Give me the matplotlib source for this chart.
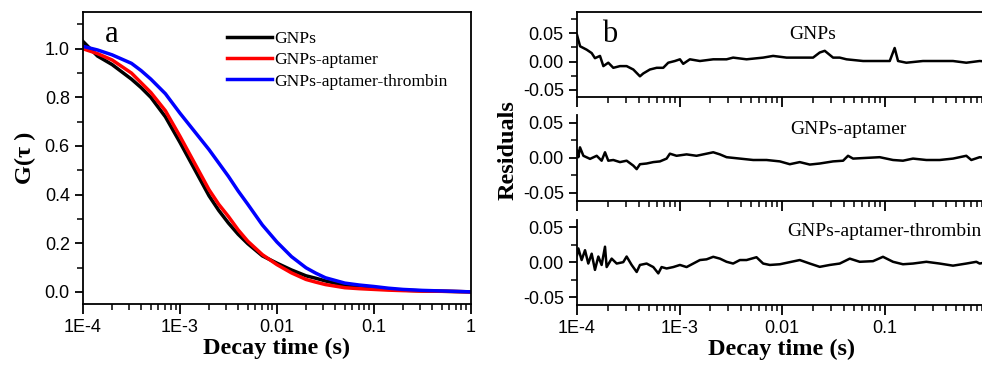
import matplotlib
matplotlib.use("Agg")
import matplotlib.pyplot as plt
import numpy as np
from matplotlib.ticker import LogLocator, MultipleLocator, FixedLocator, NullFormatter

# ---- panel a : normalised autocorrelation curves (log10 of decay time) ----
logt_a = [-4.0, -3.85, -3.7, -3.5, -3.4, -3.3, -3.15, -3.0, -2.85, -2.7, -2.6,
          -2.5, -2.4, -2.3, -2.15, -2.0, -1.85, -1.7, -1.6, -1.5, -1.3, -1.15,
          -1.0, -0.85, -0.7, -0.5, -0.25, 0.0]
g_gnps = [1.03, 0.97, 0.935, 0.875, 0.84, 0.80, 0.72, 0.615, 0.505, 0.395, 0.335,
          0.283, 0.237, 0.198, 0.148, 0.118, 0.09, 0.066, 0.056, 0.045, 0.026, 0.02,
          0.015, 0.011, 0.007, 0.004, 0.002, 0.0]
g_apt = [1.0, 0.98, 0.954, 0.90, 0.86, 0.82, 0.745, 0.64, 0.53, 0.42, 0.36,
         0.31, 0.255, 0.208, 0.153, 0.112, 0.078, 0.051, 0.04, 0.030, 0.017, 0.013,
         0.010, 0.007, 0.005, 0.003, 0.002, 0.0]
g_thr = [1.01, 0.995, 0.975, 0.94, 0.91, 0.875, 0.815, 0.735, 0.66, 0.585, 0.53,
         0.475, 0.415, 0.36, 0.275, 0.205, 0.145, 0.099, 0.077, 0.058, 0.036, 0.028,
         0.022, 0.015, 0.010, 0.006, 0.003, 0.0]
labels = ["GNPs", "GNPs-aptamer", "GNPs-aptamer-thrombin"]
colors = ["black", "red", "blue"]

# ---- panel b : fit residuals ----
logt_r1 = [-4.0, -3.97, -3.906, -3.857, -3.825, -3.776, -3.743, -3.695, -3.646,
           -3.581, -3.516, -3.451, -3.386, -3.354, -3.289, -3.223, -3.159, -3.11,
           -3.045, -2.996, -2.964, -2.899, -2.801, -2.671, -2.541, -2.477, -2.346,
           -2.184, -2.087, -1.956, -1.827, -1.697, -1.632, -1.583, -1.502, -1.437,
           -1.371, -1.209, -1.047, -0.949, -0.901, -0.868, -0.787, -0.625, -0.462,
           -0.332, -0.202, -0.072, 0.0]
res1 = [0.047, 0.027, 0.021, 0.015, 0.006, 0.01, -0.008, -0.002, -0.011,
        -0.008, -0.008, -0.014, -0.026, -0.021, -0.014, -0.011, -0.011, -0.002,
        0.001, 0.004, -0.004, 0.004, 0.001, 0.004, 0.004, 0.007, 0.004,
        0.007, 0.01, 0.007, 0.007, 0.007, 0.016, 0.019, 0.007, 0.007,
        0.004, 0.001, 0.001, 0.001, 0.024, 0.001, -0.002, 0.001, 0.001,
        0.001, -0.002, 0.001, 0.0]

logt_r2 = [-4.0, -3.987, -3.971, -3.938, -3.873, -3.808, -3.76, -3.727, -3.695,
           -3.646, -3.581, -3.516, -3.451, -3.418, -3.386, -3.321, -3.256, -3.191,
           -3.126, -3.094, -3.029, -2.931, -2.834, -2.736, -2.671, -2.606, -2.541,
           -2.411, -2.281, -2.151, -2.021, -1.924, -1.827, -1.729, -1.632, -1.502,
           -1.404, -1.356, -1.307, -1.177, -1.047, -0.917, -0.82, -0.722, -0.592,
           -0.462, -0.332, -0.202, -0.153, -0.072, 0.0]
res2 = [0.0105, 0.001, 0.015, 0.003, -0.0014, 0.003, -0.004, 0.008, -0.004,
        -0.003, -0.006, -0.004, -0.011, -0.016, -0.009, -0.008, -0.006, -0.005,
        -0.001, 0.006, 0.003, 0.005, 0.003, 0.006, 0.008, 0.005, 0.001,
        -0.001, -0.003, -0.003, -0.005, -0.009, -0.006, -0.0095, -0.008, -0.005,
        -0.004, 0.003, -0.001, 0.0, 0.001, -0.003, -0.004, -0.001, -0.003,
        -0.003, -0.001, 0.003, -0.003, 0.001, 0.0]

logt_r3 = [-4.0, -3.987, -3.955, -3.922, -3.89, -3.857, -3.825, -3.792, -3.76,
           -3.727, -3.711, -3.662, -3.613, -3.549, -3.516, -3.467, -3.418, -3.386,
           -3.321, -3.256, -3.207, -3.175, -3.126, -3.061, -2.996, -2.931, -2.866,
           -2.801, -2.736, -2.671, -2.606, -2.541, -2.477, -2.411, -2.346, -2.249,
           -2.184, -2.119, -2.021, -1.924, -1.827, -1.729, -1.632, -1.534, -1.437,
           -1.339, -1.242, -1.112, -1.015, -0.917, -0.82, -0.722, -0.592, -0.462,
           -0.332, -0.202, -0.104, -0.072, 0.0]
res3 = [0.010, 0.0195, 0.003, 0.017, -0.002, 0.012, -0.011, 0.008, -0.004,
        0.022, -0.007, 0.005, -0.002, 0.0, 0.008, -0.004, -0.014, -0.004,
        -0.002, -0.007, -0.016, -0.007, -0.009, -0.007, -0.004, -0.007, -0.002,
        0.003, 0.004, 0.0076, 0.005, 0.0005, -0.002, 0.003, 0.003, 0.007,
        -0.002, -0.004, -0.003, 0.0, 0.003, -0.002, -0.0067, -0.004, -0.002,
        0.005, 0.0005, 0.0014, 0.0076, 0.0005, -0.003, -0.002, 0.0005, -0.002,
        -0.005, -0.002, 0.0005, -0.002, 0.0]

res_labels = ["GNPs", "GNPs-aptamer", "GNPs-aptamer-thrombin"]

tick_vals = [1e-4, 1e-3, 1e-2, 1e-1, 1.0]
tick_labels_a = ["1E-4", "1E-3", "0.01", "0.1", "1"]
tick_labels_b = ["1E-4", "1E-3", "0.01", "0.1", ""]  # "1" falls outside the crop

plt.rcParams['font.family'] = ['Liberation Sans', 'DejaVu Sans']
plt.rcParams['axes.linewidth'] = 1.3
serif = ['Liberation Serif', 'DejaVu Serif']
TICK_FS = 13

fig = plt.figure(figsize=(9.82, 3.66), dpi=100)


def style_xaxis(ax, labels_x):
    ax.set_xscale("log")
    ax.set_xlim(1e-4, 1.0)
    ax.xaxis.set_major_locator(FixedLocator(tick_vals))
    ax.xaxis.set_minor_locator(LogLocator(base=10, subs=np.arange(2, 10)))
    ax.xaxis.set_minor_formatter(NullFormatter())
    if labels_x is not None:
        ax.set_xticklabels(labels_x)
    else:
        ax.set_xticklabels([])
    ax.tick_params(axis='x', which='major', direction='out', length=7, width=1.3,
                   labelsize=TICK_FS, pad=4)
    ax.tick_params(axis='x', which='minor', direction='out', length=4, width=1.1)


# ---- panel a ----
axa = fig.add_axes([0.0845, 0.1694, 0.395, 0.797])
for g, lab, c in zip([g_gnps, g_apt, g_thr], labels, colors):
    axa.plot(10.0 ** np.array(logt_a), g, color=c, lw=2.5, label=lab)
style_xaxis(axa, tick_labels_a)
axa.set_ylim(-0.05, 1.15)
axa.yaxis.set_major_locator(FixedLocator([0.0, 0.2, 0.4, 0.6, 0.8, 1.0]))
axa.yaxis.set_minor_locator(MultipleLocator(0.1))
axa.tick_params(axis='y', which='major', direction='out', length=6, width=1.3,
                labelsize=TICK_FS)
axa.tick_params(axis='y', which='minor', direction='out', length=4, width=1.1)
axa.set_xlabel("Decay time (s)", family=serif, fontweight='bold', fontsize=17.5,
               labelpad=1)
axa.set_ylabel("G(τ )", family=serif, fontweight='bold', fontsize=17.5, labelpad=6)
axa.text(0.075, 0.925, "a", transform=axa.transAxes, family=serif, fontsize=22,
         ha='center', va='center')
leg = axa.legend(loc='upper left', bbox_to_anchor=(0.33, 0.99), frameon=False,
                 prop={'family': serif, 'size': 12.6}, handlelength=2.6,
                 handletextpad=0.1, labelspacing=0.28)
for h in leg.get_lines():
    h.set_linewidth(2.5)

# ---- panel b ----
positions = [[0.5876, 0.7358, 0.4175, 0.2306],
             [0.5876, 0.4516, 0.4175, 0.234],
             [0.5876, 0.1667, 0.4175, 0.2322]]
ylims = [(-0.062, 0.087), (-0.061, 0.061), (-0.061, 0.06)]
traces = [(logt_r1, res1), (logt_r2, res2), (logt_r3, res3)]
text_pos = [(0.576, 0.735, 'center'), (0.661, 0.83, 'center'),
            (0.512, 0.87, 'left')]
axes_b = []
for i in range(3):
    ax = fig.add_axes(positions[i])
    lt, r = traces[i]
    ax.plot(10.0 ** np.array(lt), r, color='black', lw=1.8)
    style_xaxis(ax, tick_labels_b if i == 2 else None)
    ax.set_ylim(*ylims[i])
    ax.yaxis.set_major_locator(FixedLocator([-0.05, 0.0, 0.05]))
    ax.yaxis.set_minor_locator(MultipleLocator(0.025))
    ax.yaxis.set_major_formatter(plt.FuncFormatter(lambda v, p: "%.2f" % v))
    ax.tick_params(axis='y', which='major', direction='out', length=6, width=1.3,
                   labelsize=TICK_FS)
    ax.tick_params(axis='y', which='minor', direction='out', length=4, width=1.1)
    ax.spines['right'].set_visible(False)
    if i > 0:
        ax.spines['top'].set_visible(False)
    tx, ty, ha = text_pos[i]
    ax.text(tx, ty, res_labels[i], transform=ax.transAxes, family=serif,
            fontsize=14, ha=ha, va='center')
    axes_b.append(ax)

axes_b[0].text(0.08, 0.74, "b", transform=axes_b[0].transAxes, family=serif,
               fontsize=22, ha='center', va='center')
axes_b[2].set_xlabel("Decay time (s)", family=serif, fontweight='bold',
                     fontsize=17.5, labelpad=1)
fig.text(0.517, 0.59, "Residuals", rotation=90, family=serif, fontweight='bold',
         fontsize=17.5, ha='center', va='center')

fig.savefig("out.png", dpi=100)
